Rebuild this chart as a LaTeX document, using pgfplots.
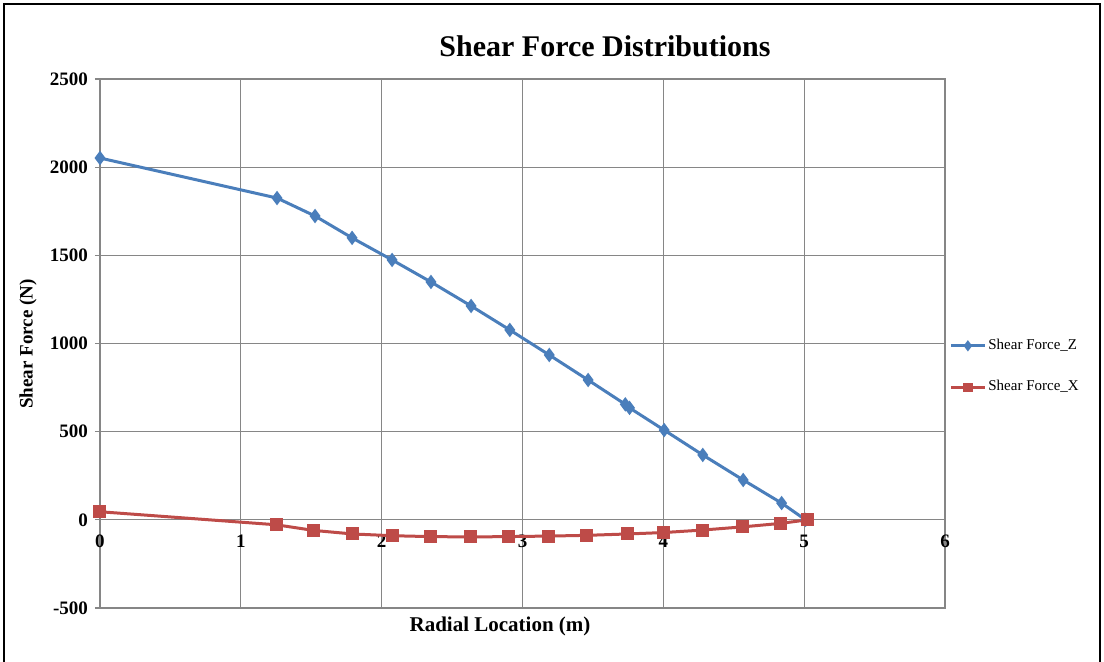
\documentclass[border=0pt]{standalone}
\usepackage{pgfplots}
\pgfplotsset{compat=1.18}
\usepackage{fontspec}
\setmainfont{Liberation Serif}
\definecolor{zblue}{RGB}{74,126,187}
\definecolor{xred}{RGB}{190,75,72}
\definecolor{gridgray}{RGB}{134,134,134}
\begin{document}
\begin{tikzpicture}
\path[use as bounding box] (0,0) rectangle (552pt,-330.5pt);
\draw[black, line width=1pt] (2pt,-331pt) -- (2pt,-2pt) -- (550pt,-2pt) -- (550pt,-331pt);
\node[font=\fontsize{15}{17}\selectfont\bfseries] at (302.5pt,-23pt) {Shear Force Distributions};
\node[font=\fontsize{9.5}{12}\selectfont\bfseries, rotate=90] at (14pt,-172pt) {Shear Force (N)};
\node[font=\fontsize{10.5}{12}\selectfont\bfseries] at (250pt,-313pt) {Radial Location (m)};
\begin{axis}[
  at={(50pt,-304pt)}, anchor=south west,
  scale only axis, width=422.5pt, height=264.5pt,
  xmin=0, xmax=6, ymin=-500, ymax=2500,
  xtick={0,1,2,3,4,5,6}, ytick={-500,0,500,1000,1500,2000,2500},
  grid=major, grid style={gridgray, line width=0.6pt},
  axis line style={gridgray, line width=0.6pt},
  tick style={gridgray, line width=0.6pt},
  tick align=outside, major tick length=2.5pt,
  xtick style={draw=none},
  ytick pos=left,
  /pgf/number format/assume math mode=true,
  /pgf/number format/set thousands separator={},
  ticklabel style={font=\fontsize{9.5}{11}\selectfont\bfseries},
  xticklabel style={yshift=42.5pt},
  legend style={at={(rel axis cs:1,0.4565)}, anchor=west, xshift=2pt,
    draw=none, fill=none, font=\fontsize{7.5}{9}\selectfont,
    row sep=12pt, inner sep=0pt, nodes={inner sep=1pt}},
  legend cell align=left,
  legend image code/.code={\draw[#1, mark size=1.6pt, mark repeat=2, mark phase=2] plot coordinates {(0pt,0pt) (8.5pt,0pt) (17pt,0pt)};},
]
\addplot[zblue, line width=1.5pt, mark=diamond*, mark size=2.4pt, mark options={fill=zblue, draw=zblue}] coordinates {
(0,2052) (1.257,1825) (1.527,1723) (1.79,1599) (2.074,1474) (2.35,1349)
(2.635,1213) (2.91,1077) (3.19,935) (3.466,793) (3.73,655) (3.76,635)
(4.006,509) (4.28,368) (4.567,226) (4.84,95) (5.01,0)
};
\addlegendentry{Shear Force\_Z}
\addplot[xred, line width=1.5pt, mark=square*, mark size=2.5pt, mark options={fill=xred, draw=xred}] coordinates {
(0,46) (1.252,-28) (1.517,-60) (1.793,-80) (2.076,-90) (2.345,-95)
(2.631,-97) (2.9,-95) (3.183,-92) (3.452,-88) (3.748,-80) (4.003,-72)
(4.276,-58) (4.562,-40) (4.834,-20) (5.024,0)
};
\addlegendentry{Shear Force\_X}
\end{axis}
\end{tikzpicture}
\end{document}
